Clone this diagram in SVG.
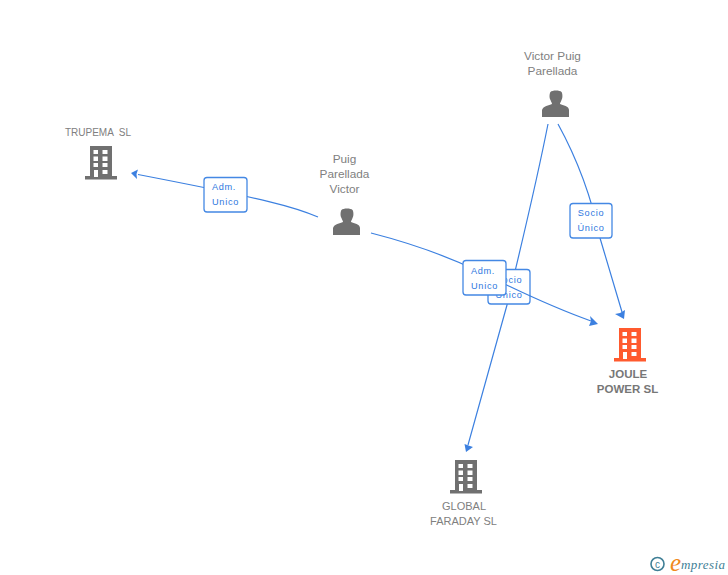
<svg xmlns="http://www.w3.org/2000/svg" width="728" height="575" viewBox="0 0 728 575">
<style>
text{font-family:"Liberation Sans",Arial,sans-serif}
.n{font-size:11.800px;fill:#808080;text-anchor:middle}
.g{font-size:11px;fill:#808080;text-anchor:middle}
.b{font-size:11.500px;fill:#777;text-anchor:middle;font-weight:bold}
.c{fill:none;stroke:#3c80e0;stroke-width:1.200}
.a{fill:#3c80e0}
.lb{fill:#fff;stroke:#4488e4;stroke-width:1.300}
.lt{font-size:9.200px;fill:#2f78e0;text-anchor:middle;letter-spacing:.7px}
</style>
<defs>
<symbol id="bld" viewBox="0 0 32 34" width="32" height="34" overflow="visible">
<path fill="currentColor" fill-rule="evenodd" d="M5 0H27V30H32V33.500H0V30H5ZM8.500 4V8H13V4ZM17.500 4V8H22.500V4ZM8.500 10.500V15H13V10.500ZM17.500 10.500V15H22.500V10.500ZM8.500 17V21H13V17ZM17.500 17V21H22.500V17ZM9 24V31H13V24ZM17.500 24V28H22.500V24Z"/>
</symbol>
<symbol id="psn" viewBox="0 0 28 28" width="28" height="28">
<path fill="#707070" d="M0 27V20C1 16 7 15.500 10 14C10 12.500 9 12 8.500 10C7 8 7.500 3 8.500 2C10 0 18 0 19.500 2C20.500 3 21 8 19.500 10C19 12 18 12.500 18 14C21 15.500 27 16 27 20V27Z"/>
</symbol>
</defs>
<g id="connectors">
<path class="c" d="M318 217C295 207 270 200 138 174.500"/>
<path class="a" d="M131 173L138 169.500L136.500 174L137 179Z"/>
<path class="c" d="M548 124C535 190 520 250 507 305L468 445"/>
<path class="a" d="M466 452L464.500 444L468.500 445.500L473 447Z"/>
<path class="c" d="M558 124C575 155 590 190 600 238L622 312"/>
<path class="a" d="M624 319L615 314L620 313L625 310Z"/>
</g>
<g id="label-socio-global">
<rect class="lb" x="488" y="269.500" width="42" height="34.500" rx="3"/>
<text class="lt" x="509" y="283">Socio</text>
<text class="lt" x="509" y="298">Único</text>
</g>
<g id="connector-puig-joule">
<path class="c" d="M371 233C410 243 445 255 480 272C520 292 560 310 591 321"/>
<path class="a" d="M598 324L589 326L591 321L590 316Z"/>
</g>
<g id="label-adm-trupema">
<rect class="lb" x="204" y="177.500" width="43" height="34.500" rx="3"/>
<text class="lt" x="224" y="190">Adm.</text>
<text class="lt" x="225.500" y="205">Unico</text>
</g>
<g id="label-socio-joule">
<rect class="lb" x="570" y="203.500" width="42" height="34.500" rx="3"/>
<text class="lt" x="591" y="216">Socio</text>
<text class="lt" x="591" y="231">Único</text>
</g>
<g id="label-adm-joule">
<rect class="lb" x="463" y="260.500" width="43" height="34.500" rx="3"/>
<text class="lt" x="483" y="274">Adm.</text>
<text class="lt" x="484.500" y="289">Unico</text>
</g>
<g id="node-trupema" color="#707070">
<use href="#bld" x="85" y="146"/>
<text class="n" x="98" y="136" style="font-size:10px" xml:space="preserve">TRUPEMA  SL</text>
</g>
<g id="node-puig">
<use href="#psn" x="333" y="208"/>
<text class="n" x="344.500" y="163">Puig</text>
<text class="n" x="344.500" y="178">Parellada</text>
<text class="n" x="344.500" y="193">Victor</text>
</g>
<g id="node-victor">
<use href="#psn" x="542" y="90"/>
<text class="n" x="552.500" y="60">Victor Puig</text>
<text class="n" x="552.500" y="75">Parellada</text>
</g>
<g id="node-joule" color="#ff5a2e">
<use href="#bld" x="614" y="328"/>
<text class="b" x="628" y="378">JOULE</text>
<text class="b" x="627.500" y="393">POWER SL</text>
</g>
<g id="node-global" color="#707070">
<use href="#bld" x="450" y="460"/>
<text class="g" x="464" y="510">GLOBAL</text>
<text class="g" x="463.500" y="525">FARADAY SL</text>
</g>
<g id="logo">
<circle cx="657.500" cy="564" r="6.500" fill="none" stroke="#3f7f96" stroke-width="1.600"/>
<text x="657.500" y="567.500" text-anchor="middle" style="font-size:10px;fill:#3f7f96">c</text>
<text x="670" y="571" style="font-family:'Liberation Serif',serif;font-style:italic;font-size:25px;fill:#f08a1d">e</text>
<text x="681" y="568.500" style="font-family:'Liberation Serif',serif;font-style:italic;font-size:13px;fill:#3f7f96" textLength="44">mpresia</text>
</g>
</svg>
